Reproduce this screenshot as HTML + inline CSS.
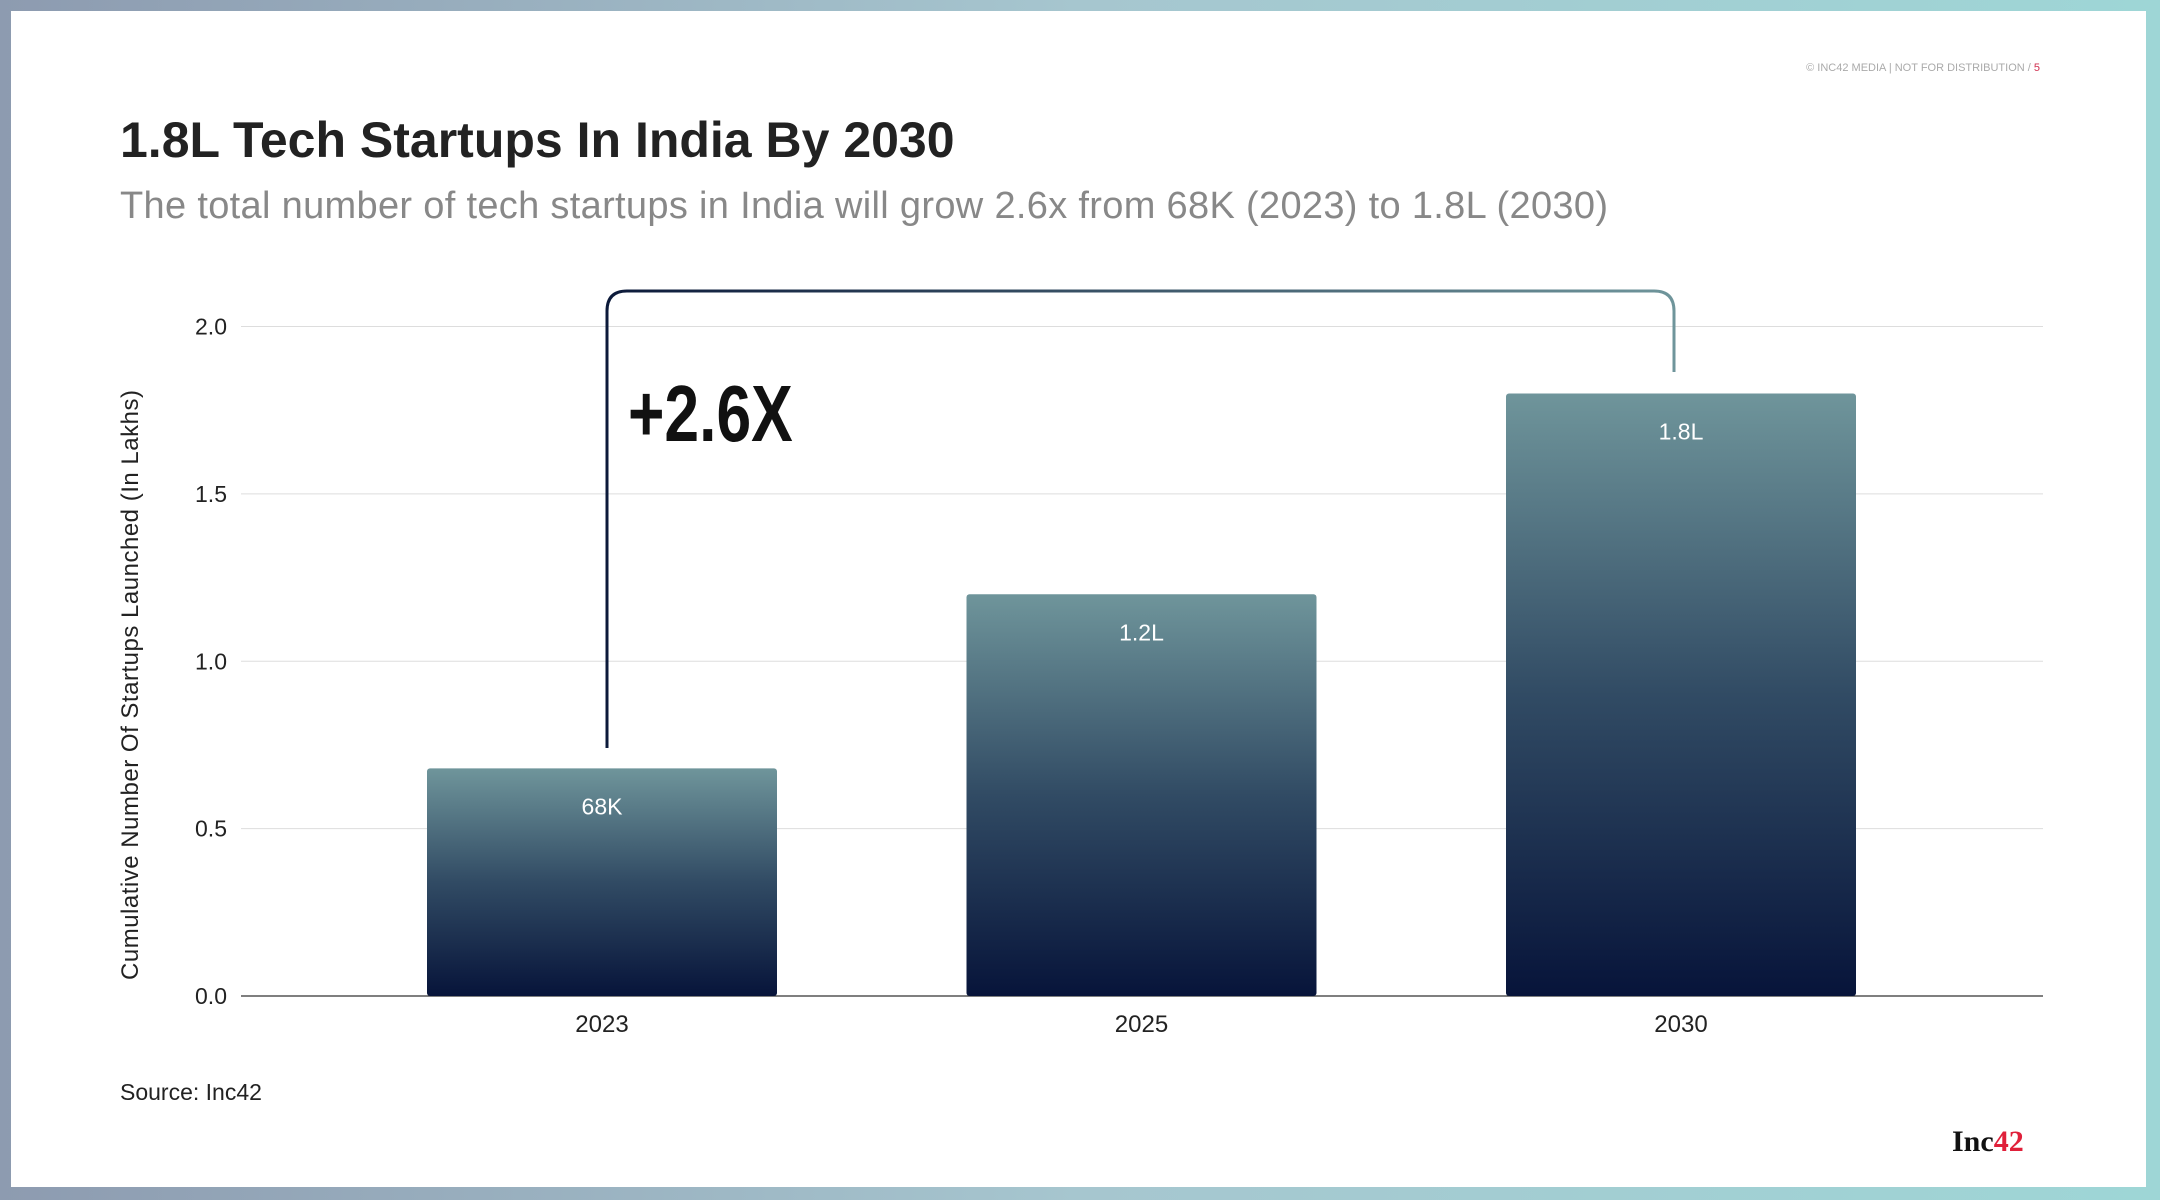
<!DOCTYPE html>
<html><head><meta charset="utf-8"><style>
html,body{margin:0;padding:0}
body{width:2160px;height:1200px;background:linear-gradient(90deg,#8d9bb0,#a6c6cf 50%,#9ed6d6);position:relative;overflow:hidden;font-family:"Liberation Sans",sans-serif}
#panel{position:absolute;left:11px;top:11px;width:2135px;height:1176px;background:#fff}
</style></head><body>
<div id="panel"></div>
<svg width="2160" height="1200" style="position:absolute;left:0;top:0">
<defs>
<linearGradient id="bg" x1="0" y1="0" x2="0" y2="1"><stop offset="0" stop-color="#6f959b"/><stop offset="0.5" stop-color="#314b64"/><stop offset="1" stop-color="#07143a"/></linearGradient>
<linearGradient id="br" x1="0" y1="0" x2="1" y2="0"><stop offset="0" stop-color="#0c1a3a"/><stop offset="1" stop-color="#6f959b"/></linearGradient>
</defs>
<text x="2040" y="71" text-anchor="end" font-size="11" fill="#aaa">© INC42 MEDIA | NOT FOR DISTRIBUTION / <tspan fill="#d03050">5</tspan></text>
<text x="120" y="157" font-size="50" font-weight="bold" fill="#222">1.8L Tech Startups In India By 2030</text>
<text x="120" y="218" font-size="38" fill="#888" textLength="1488">The total number of tech startups in India will grow 2.6x from 68K (2023) to 1.8L (2030)</text>
<g id="grid"></g><g id="bars"></g>
<path d="M607 748 V311 Q607 291 627 291 H1654 Q1674 291 1674 311 V372" fill="none" stroke="url(#br)" stroke-width="3"/>
<text x="0" y="0" font-size="80" font-weight="bold" fill="#111" transform="translate(628 441) scale(0.78 1)">+2.6X</text>
<text transform="translate(138 685) rotate(-90)" text-anchor="middle" font-size="24" fill="#222" textLength="590">Cumulative Number Of Startups Launched (In Lakhs)</text>
<text x="120" y="1100" font-size="23" fill="#222">Source: Inc42</text>
<text x="1952" y="1151" font-size="30" font-weight="bold" font-family="Liberation Serif,serif" fill="#111">Inc<tspan fill="#e0203a">42</tspan></text>
</svg>
<script>
const categories=["2023","2025","2030"];
const values=[0.68,1.2,1.8];
const labels=["68K","1.2L","1.8L"];
const ticks=[0,0.5,1.0,1.5,2.0];
const ns="http://www.w3.org/2000/svg";
const y=v=>996-v*(996-326.5)/2;
const x=i=>602+i*539.5;
const g=document.getElementById('grid'),b=document.getElementById('bars');
function mk(t,a,p){const e=document.createElementNS(ns,t);for(const k in a)e.setAttribute(k,a[k]);p.appendChild(e);return e;}
ticks.forEach(t=>{
 const l=mk('line',{x1:241,x2:2043,y1:y(t),y2:y(t),stroke:t===0?'#555':'#ddd','stroke-width':t===0?1.5:1},g);
 
 
 const tx=mk('text',{x:227,y:y(t)+8,'text-anchor':'end','font-size':23,fill:'#222'},g);
 tx.textContent=t.toFixed(1);
 
 
});
categories.forEach((c,i)=>{
 const r=mk('rect',{x:x(i)-175,y:y(values[i]),width:350,height:996-y(values[i]),fill:'url(#bg)',rx:3},b);
 
 
 const v=mk('text',{x:x(i),y:y(values[i])+46,'text-anchor':'middle','font-size':23,fill:'#fff'},b);
 v.textContent=labels[i];
 
 
 const xl=mk('text',{x:x(i),y:1032,'text-anchor':'middle','font-size':24,fill:'#222'},b);
 xl.textContent=c;
 
 
});
</script>
</body></html>
